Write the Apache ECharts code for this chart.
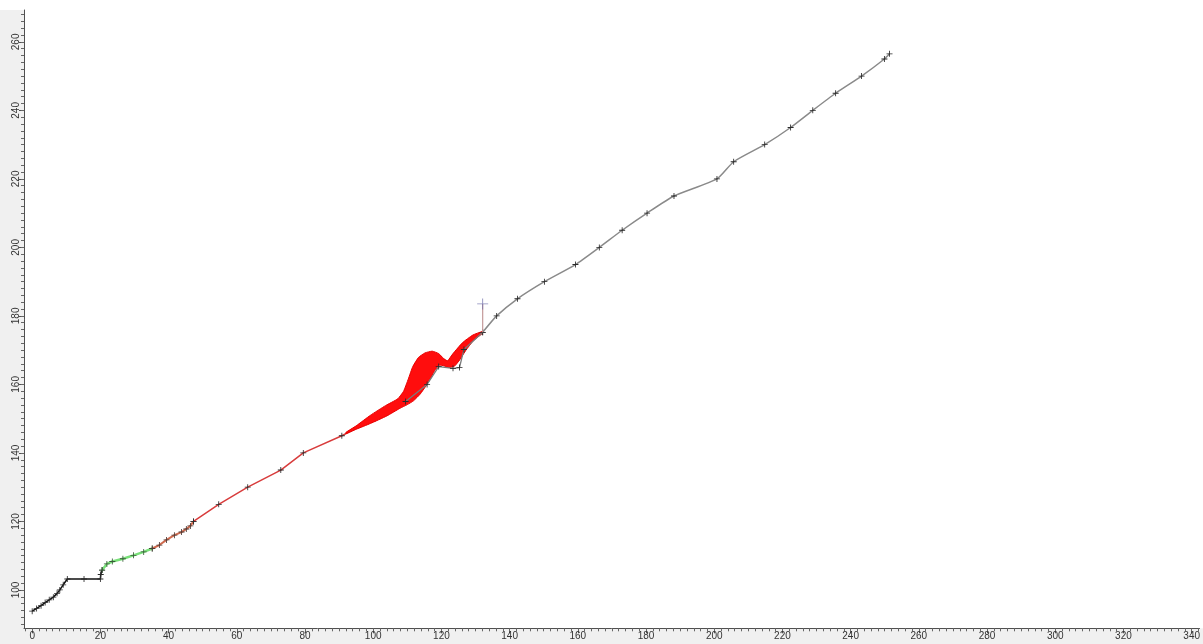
<!DOCTYPE html>
<html>
<head>
<meta charset="utf-8">
<title>Profile</title>
<script src="https://cdn.jsdelivr.net/npm/echarts@6/dist/echarts.min.js"></script>
<style>
  html, body { margin: 0; padding: 0; background: #ffffff; }
  #chart { width: 1203px; height: 644px; }
</style>
</head>
<body>
<div id="chart"></div>
<script>
// Lower section, dense readings
const blackPath = [
  [0, 93.8], [1.3, 94.6], [2.6, 95.4], [3.8, 96.3], [5.0, 97.1], [6.2, 97.9],
  [7.3, 99.0], [8.1, 100.0], [9.1, 101.5], [10.3, 103.2], [15.2, 103.2],
  [20.0, 103.2], [20.1, 104.5], [20.5, 105.8]
];
// Green section
const greenPath = [
  [20.5, 105.8], [21.9, 107.6], [23.5, 108.3], [26.6, 109.1], [29.7, 110.1],
  [32.7, 111.1], [35.2, 112.1]
];
// Transition section
const brownPath = [
  [35.2, 112.1], [37.3, 113.1], [39.4, 114.6], [41.7, 116.0], [43.8, 116.9],
  [45.2, 117.8], [46.4, 118.7], [47.3, 120.0]
];
// Red section
const redPath = [
  [47.3, 120.0], [54.7, 125.0], [63.2, 130.0], [72.9, 135.0], [79.5, 140.0],
  [90.8, 145.0], [100.5, 150.0], [109.5, 155.0]
];
// Reference path under the envelope
const grayMidPath = [
  [109.5, 155.0], [115.8, 160.0], [119.2, 165.2], [123.4, 164.7], [125.3, 164.9],
  [126.6, 170.2], [132.1, 175.2]
];
// Upper section
const grayUpperPath = [
  [132.1, 175.2], [136.2, 180], [142.3, 185], [150.2, 190], [159.3, 195],
  [166.3, 200], [173.0, 205], [180.3, 210], [188.2, 215], [200.8, 220],
  [205.7, 225], [214.8, 230], [222.4, 235], [228.9, 240], [235.6, 245],
  [243.2, 250], [249.9, 255], [251.4, 256.5]
];
// Envelope of the realisations (upper edge, then lower edge back)
const bandUpper = [
  [92.0, 146.0], [95.0, 147.9], [99.2, 151.0], [103.6, 153.8], [107.2, 155.8],
  [108.9, 158.0], [110.3, 161.6], [111.6, 165.2], [113.3, 167.9], [115.2, 169.2],
  [117.3, 169.7], [119.2, 169.0], [120.6, 167.6], [121.8, 166.9], [123.4, 169.0],
  [126.2, 172.2], [129.2, 174.4], [131.9, 175.4]
];
const bandLower = [
  [131.9, 174.8], [129.4, 172.8], [127.2, 170.0], [125.4, 167.2], [123.8, 165.3],
  [122.2, 164.9], [120.8, 165.4], [119.4, 165.6], [118.0, 164.0], [116.6, 161.4],
  [115.5, 159.6], [113.8, 157.2], [111.8, 155.2], [110.0, 154.1], [107.8, 153.0],
  [104.0, 150.8], [99.2, 148.6], [95.0, 146.9], [92.0, 145.6]
];
// Single reading with its link to the profile
const crossPoint = [132.1, 183.5];
const crossLink = [[132.1, 175.2], [132.1, 183.5]];

// Axis ranges and tick values
const xRange = [-2.4, 342.3];
const yRange = [88.8, 269.3];
const xMajorTicks = [0, 20, 40, 60, 80, 100, 120, 140, 160, 180, 200, 220, 240, 260, 280, 300, 320, 340];
const yMajorTicks = [100, 120, 140, 160, 180, 200, 220, 240, 260];
const minorStep = 2;

function stepsWithin(lo, hi, step) {
  const out = [];
  for (let v = Math.ceil(lo / step) * step; v <= hi; v += step) out.push(v);
  return out;
}
const xMinorTicks = stepsWithin(xRange[0], xRange[1], minorStep);
const yMinorTicks = stepsWithin(yRange[0], yRange[1], minorStep);

const plus = 'path://M4.3,0H5.7V4.3H10V5.7H5.7V10H4.3V5.7H0V4.3H4.3Z';
const FONT = 'Liberation Sans, Arial, sans-serif';
const AXIS_COLOR = '#505050';

function pathSeries(data, color, width, z, smooth, markColor) {
  return {
    type: 'line',
    data: data,
    smooth: smooth || false,
    symbol: plus,
    symbolSize: 6,
    showAllSymbol: true,
    itemStyle: { color: markColor || '#2a2a2a' },
    lineStyle: { color: color, width: width },
    z: z,
    silent: true
  };
}

function mainAxis(range, ticks, position, rotate) {
  return {
    type: 'value', position: position,
    min: range[0], max: range[1],
    axisLine: { onZero: false, lineStyle: { color: AXIS_COLOR, width: 1 } },
    axisTick: { customValues: ticks, length: 5, lineStyle: { color: AXIS_COLOR } },
    splitLine: { show: false },
    axisLabel: {
      customValues: ticks, rotate: rotate,
      color: '#333', fontFamily: FONT, fontSize: 10, margin: 3
    }
  };
}
function minorAxis(range, ticks, position) {
  return {
    type: 'value', position: position,
    min: range[0], max: range[1],
    axisLine: { show: false, onZero: false },
    axisTick: { customValues: ticks, length: 3, lineStyle: { color: '#666' } },
    splitLine: { show: false },
    axisLabel: { show: false }
  };
}

const chart = echarts.init(document.getElementById('chart'), null, { renderer: 'canvas' });

chart.setOption({
  animation: false,
  backgroundColor: '#ffffff',
  graphic: [
    { type: 'rect', z: -10, shape: { x: 0, y: 10, width: 24, height: 634 }, style: { fill: '#f0f0f0' } },
    { type: 'rect', z: -10, shape: { x: 0, y: 628.3, width: 1203, height: 16 }, style: { fill: '#f0f0f0' } }
  ],
  grid: { left: 24, right: 0, top: 10, bottom: 15.7, containLabel: false },
  xAxis: [
    mainAxis(xRange, xMajorTicks, 'bottom', 0),
    minorAxis(xRange, xMinorTicks, 'bottom')
  ],
  yAxis: [
    mainAxis(yRange, yMajorTicks, 'left', 90),
    minorAxis(yRange, yMinorTicks, 'left')
  ],
  series: [
    pathSeries(blackPath, '#111111', 1.5, 3),
    pathSeries(greenPath, '#78e078', 2.5, 3, false, '#3a5a3a'),
    pathSeries(brownPath, '#cf6a4e', 2, 3, false, '#4a3a36'),
    pathSeries(redPath, '#d83c3c', 1.5, 3),
    {
      type: 'custom',
      silent: true,
      z: 4,
      data: [bandUpper[0]],
      renderItem: function (params, api) {
        const pts = bandUpper.concat(bandLower).map(function (p) { return api.coord(p); });
        return {
          type: 'polygon',
          shape: { points: pts, smooth: 0.15 },
          style: { fill: '#ff0d0d', stroke: '#e80000', lineWidth: 1 }
        };
      }
    },
    pathSeries(grayMidPath, '#7a7a7a', 1.3, 5),
    pathSeries(grayUpperPath, '#8a8a8a', 1.5, 3, 0.2),
    {
      type: 'line',
      data: crossLink,
      symbol: 'none',
      lineStyle: { color: '#c49a9a', width: 1.2 },
      z: 6,
      silent: true
    },
    {
      type: 'scatter',
      data: [crossPoint],
      symbol: 'path://M4.6,0H5.4V4.6H10V5.4H5.4V10H4.6V5.4H0V4.6H4.6Z',
      symbolSize: 11,
      itemStyle: { color: '#6b6ba8' },
      z: 7,
      silent: true
    }
  ]
});
</script>
</body>
</html>
